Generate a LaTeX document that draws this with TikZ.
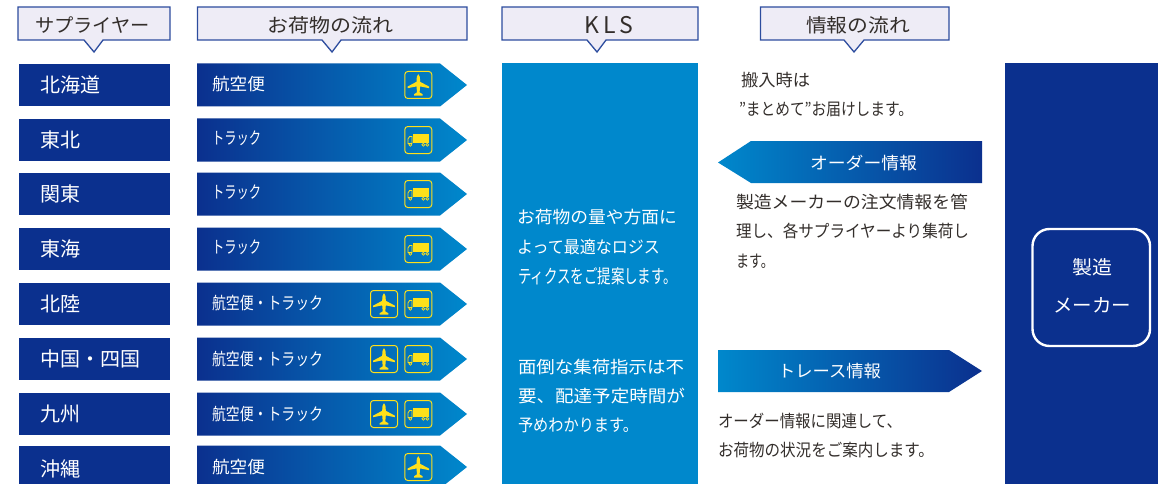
\documentclass[tikz,border=0pt]{standalone}
\usepackage{fontspec}
\usepackage{graphicx}
\setmainfont{Noto Sans CJK JP}
\usetikzlibrary{calc}
\definecolor{navy}{HTML}{0B308E}
\definecolor{sky}{HTML}{0088CC}
\definecolor{headfill}{HTML}{EEECF6}
\definecolor{headline}{HTML}{2C4C9E}
\definecolor{ink}{HTML}{332E2B}
\definecolor{icony}{HTML}{FFE01A}
\newcommand{\tfit}[2]{\resizebox{#1pt}{\height}{#2}}
\newcommand{\fsz}[1]{\fontsize{#1pt}{#1pt}\selectfont}
\tikzset{
  txt/.style={inner sep=0pt,outer sep=0pt,anchor=west},
  whitetxt/.style={txt,text=white},
  inktxt/.style={txt,text=ink},
  headbox/.style={draw=headline,fill=headfill,line width=1.3pt,line join=miter},
  headtxt/.style={inner sep=0pt,text=ink,anchor=center,font=\fsz{19}},
  navybox/.style={fill=navy},
  gradR/.style={left color=navy,right color=sky},
  gradL/.style={left color=sky,right color=navy},
  iconframe/.style={draw=icony,line width=1pt,rounded corners=3pt},
  planeicon/.pic={
    \draw[iconframe] (-13.5,-13.5) rectangle (13.5,13.5);
    \fill[icony] (0,-10.8) .. controls (1.4,-10) and (1.7,-8) .. (1.8,-3.2)
      -- (10.8,1.6) -- (10.8,3.2) -- (1.8,1.4) -- (1.3,7.4) -- (4.3,9.2) -- (4.3,10.6)
      -- (-4.3,10.6) -- (-4.3,9.2) -- (-1.3,7.4) -- (-1.8,1.4) -- (-10.8,3.2) -- (-10.8,1.6)
      -- (-1.8,-3.2) .. controls (-1.7,-8) and (-1.4,-10) .. (0,-10.8) -- cycle;
  },
  truckicon/.pic={
    \draw[iconframe] (-13.5,-13.5) rectangle (13.5,13.5);
    \fill[icony] (-5.6,-5.8) rectangle (10.8,3);
    \draw[icony,line width=.8pt] (-6.4,3.4) -- (-10.4,3.4) -- (-10.4,-1) -- (-8.6,-3.6) -- (-6.4,-3.6) -- cycle;
    \draw[icony,line width=.7pt,fill=none] (-8,4.8) circle (1.4) (5,4.8) circle (1.4) (9,4.8) circle (1.4);
  },
}
\begin{document}
\begin{tikzpicture}[x=1pt,y=-1pt]
\useasboundingbox (0,0) rectangle (1158,484);
\clip (0,0) rectangle (1158,484);
% headers
\draw[headbox] (18,7) -- (170,7) -- (170,40) -- (103,40) -- (94,52) -- (84,40) -- (18,40) -- cycle;
\node[headtxt] (h1) at (92.5,25) {\tfit{115}{サプライヤー}};
\draw[headbox] (197.5,7) -- (467,7) -- (467,40) -- (341,40) -- (332,52) -- (322,40) -- (197.5,40) -- cycle;
\node[headtxt] (h2) at (330,25) {\tfit{126}{お荷物の流れ}};
\draw[headbox] (502,7) -- (698,7) -- (698,40) -- (606,40) -- (597,52) -- (587,40) -- (502,40) -- cycle;
\node[headtxt,font=\fsz{23}\addfontfeature{LetterSpace=18}] (h3) at (608.5,25) {KLS};
\draw[headbox] (760.5,7) -- (949,7) -- (949,40) -- (864,40) -- (854,52) -- (844,40) -- (760.5,40) -- cycle;
\node[headtxt] (h4) at (858,25) {\tfit{104}{情報の流れ}};
% rows
\foreach \c/\sdy/\sup/\lab/\w/\dy/\kind in {
  85/0/北海道/航空便/53/-1/p,
  140/0/東北/トラック/49/-2/t,
  194/0/関東/トラック/49/-2/t,
  249/0/東海/トラック/49/-2/t,
  304/0/北陸/航空便・トラック/111/-1/b,
  359/0/中国・四国/航空便・トラック/111/0/b,
  414/0/九州/航空便・トラック/111/0/b,
  467/2/沖縄/航空便/53/0/p}{
  \fill[navybox] (19,\c-21) rectangle (170,\c+21);
  \node[whitetxt,font=\fsz{20}] (sup\c) at (40,\c+\sdy) {\sup};
  \shade[gradR] (197,\c-21.5) -- (440,\c-21.5) -- (467,\c) -- (440,\c+21.5) -- (197,\c+21.5) -- cycle;
  \node[whitetxt,font=\fsz{17}] (lab\c) at (212,\c+\dy) {\tfit{\w}{\lab}};
  \if\kind p \pic at (418.3,\c) {planeicon}; \fi
  \if\kind t \pic at (418.3,\c) {truckicon}; \fi
  \if\kind b \pic at (418.3,\c) {truckicon}; \pic at (384,\c) {planeicon}; \fi
}
% KLS column
\fill[fill=sky] (502,63) rectangle (698,484);
\node[whitetxt,font=\fsz{17}] (k1) at (517,217) {\tfit{160}{お荷物の量や方面に}};
\node[whitetxt,font=\fsz{17}] (k2) at (517,247) {\tfit{143}{よって最適なロジス}};
\node[whitetxt,font=\fsz{19}] (k3) at (518,276) {\tfit{159}{ティクスをご提案します。}};
\node[whitetxt,font=\fsz{17}] (k4) at (518,367) {\tfit{166}{面倒な集荷指示は不}};
\node[whitetxt,font=\fsz{17}] (k5) at (518,396) {\tfit{167}{要、配達予定時間が}};
\node[whitetxt,font=\fsz{17}] (k6) at (518,425) {\tfit{120}{予めわかります。}};
% information column
\node[inktxt,font=\fsz{17}] (i1) at (741,80) {\tfit{69}{搬入時は}};
\node[inktxt,font=\fsz{17}] (i2) at (739,109) {\tfit{174}{”まとめて”お届けします。}};
\shade[gradL] (718,162.5) -- (751,141) -- (982,141) -- (982,183) -- (751,183) -- cycle;
\node[whitetxt,font=\fsz{17}] (o1) at (810,163) {\tfit{107}{オーダー情報}};
\node[inktxt,font=\fsz{17}] (i3) at (736,202) {\tfit{232}{製造メーカーの注文情報を管}};
\node[inktxt,font=\fsz{17}] (i4) at (736,231) {\tfit{233}{理し、各サプライヤーより集荷し}};
\node[inktxt,font=\fsz{17}] (i5) at (736,261) {\tfit{38}{ます。}};
\shade[left color=sky,right color=navy] (718,350) -- (949,350) -- (982,371) -- (949,392) -- (718,392) -- cycle;
\node[whitetxt,font=\fsz{17}] (o2) at (778,371) {\tfit{103}{トレース情報}};
\node[inktxt,font=\fsz{17}] (i6) at (718,421) {\tfit{184}{オーダー情報に関連して、}};
\node[inktxt,font=\fsz{17}] (i7) at (718,450) {\tfit{216}{お荷物の状況をご案内します。}};
% maker
\fill[navybox] (1005,63) rectangle (1158,484);
\draw[white,line width=2.4pt,rounded corners=17pt] (1032.5,229) rectangle (1150,346);
\node[whitetxt,anchor=center,font=\fsz{19}] (m1) at (1092,267) {\tfit{40}{製造}};
\node[whitetxt,anchor=center,font=\fsz{19}] (m2) at (1092,305) {\tfit{78}{メーカー}};
\end{tikzpicture}
\end{document}
